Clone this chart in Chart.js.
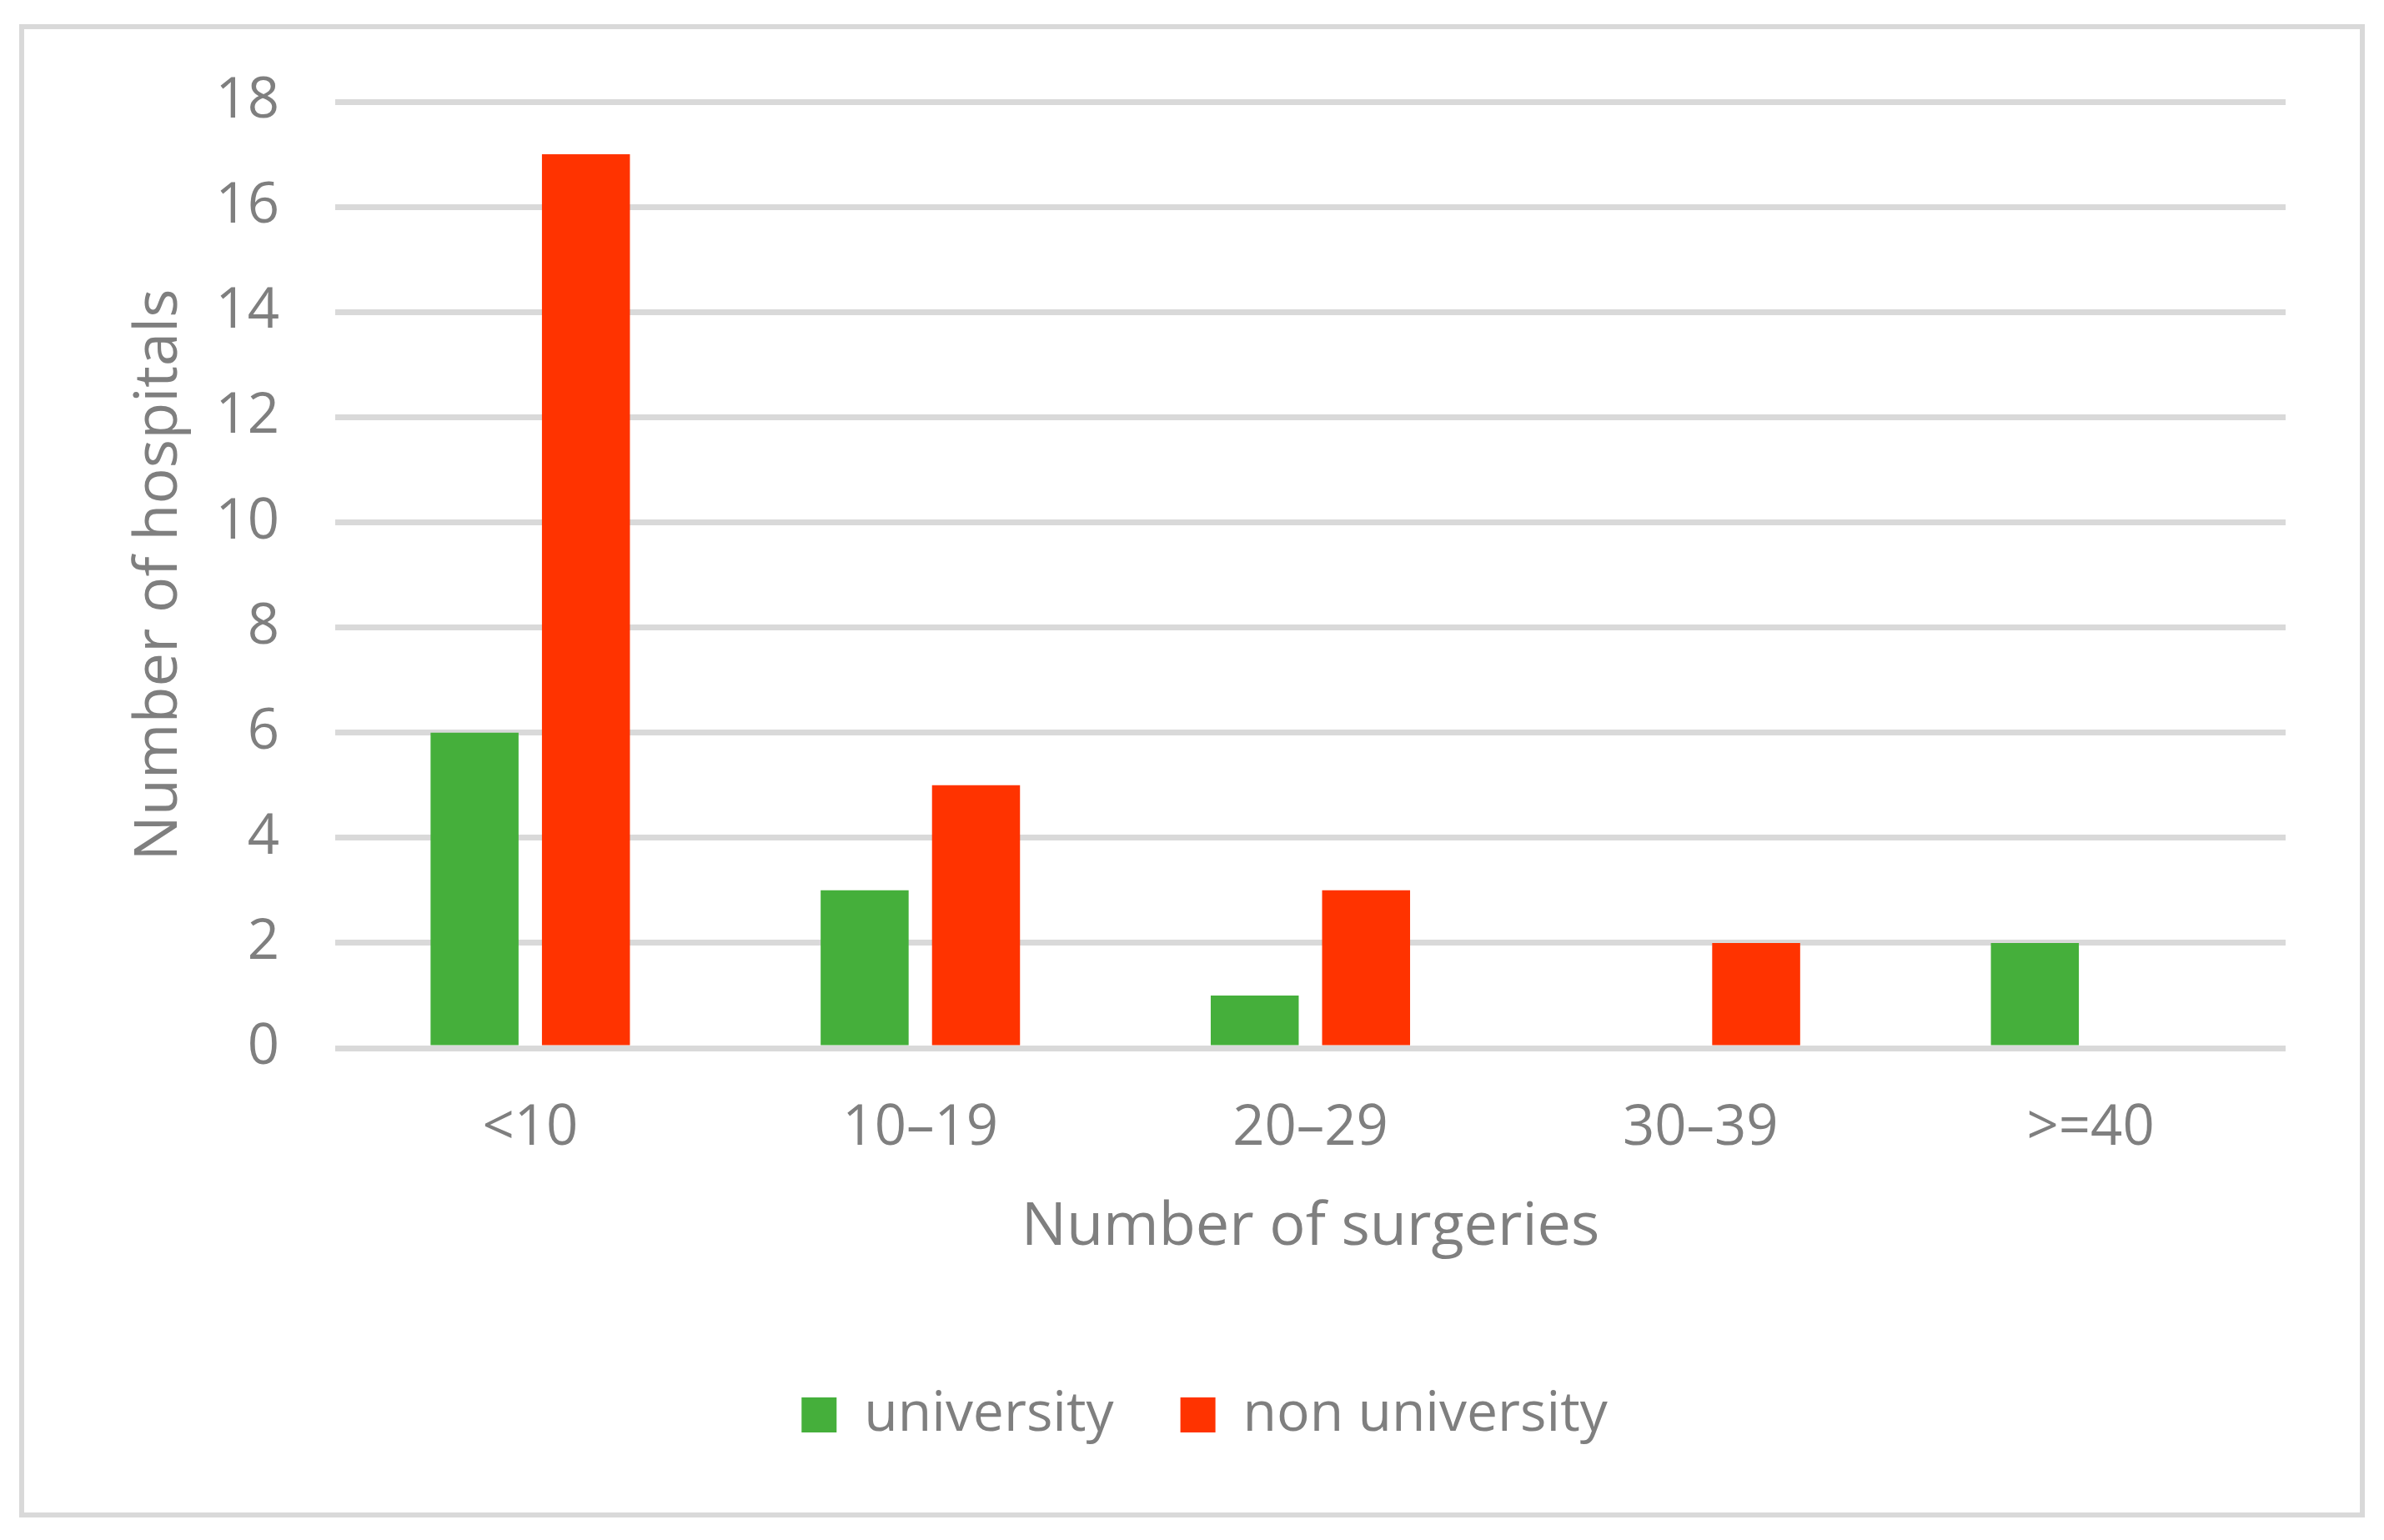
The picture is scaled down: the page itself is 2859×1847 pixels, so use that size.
<!DOCTYPE html>
<html>
<head>
<meta charset="utf-8">
<script src="https://cdn.jsdelivr.net/npm/chart.js@4.4.0/dist/chart.umd.min.js"></script>
<style>
  html, body { margin: 0; padding: 0; background: #ffffff; }
  #wrap { position: relative; width: 2859px; height: 1847px; }
  #frame { position: absolute; left: 23px; top: 29px; width: 2801px; height: 1779px;
           border: 6px solid #d9d9d9; pointer-events: none; }
  canvas { position: absolute; left: 0; top: 0; }
</style>
</head>
<body>
<div id="wrap">
  <canvas id="c" width="2859" height="1847"></canvas>
  <div id="frame"></div>
</div>
<script>
const categories = ["<10", "10\u201319", "20\u201329", "30\u201339", ">=40"];
const universityValues = [6, 3, 1, 0, 2];
const nonUniversityValues = [17, 5, 3, 2, 0];
const seriesNames = ["university", "non university"];
const yTicks = [0, 2, 4, 6, 8, 10, 12, 14, 16, 18];

const textColor = "#7f7f7f";
const gridColor = "#d9d9d9";
const fontFamily = "'Open Sans', sans-serif";

new Chart(document.getElementById("c"), {
  type: "bar",
  data: {
    labels: categories,
    datasets: [
      { label: seriesNames[0], data: universityValues, backgroundColor: "#45af3b",
        borderWidth: 0, categoryPercentage: 0.571, barPercentage: 0.79 },
      { label: seriesNames[1], data: nonUniversityValues, backgroundColor: "#ff3300",
        borderWidth: 0, categoryPercentage: 0.571, barPercentage: 0.79 }
    ]
  },
  options: {
    responsive: false,
    animation: false,
    devicePixelRatio: 1,
    layout: { padding: { top: 122, left: 148, right: 118, bottom: 107 } },
    plugins: {
      tooltip: { enabled: false },
      legend: {
        position: "bottom",
        labels: {
          boxWidth: 42, boxHeight: 42, padding: 80,
          color: textColor,
          font: { family: fontFamily, size: 66 }
        }
      }
    },
    scales: {
      x: {
        grid: { display: false, drawTicks: false },
        border: { display: false },
        ticks: { color: textColor, padding: 57, font: { family: fontFamily, size: 67 } },
        title: { display: true, text: "Number of surgeries", color: textColor,
                 padding: { top: 0, bottom: 68 },
                 font: { family: fontFamily, size: 72 } },
        afterFit: (s) => { s.height = 327; }
      },
      y: {
        min: yTicks[0], max: yTicks[yTicks.length - 1],
        afterBuildTicks: (s) => { s.ticks = yTicks.map(v => ({ value: v })); },
        grid: { color: gridColor, lineWidth: 7, drawTicks: false },
        border: { display: false },
        ticks: { color: textColor, padding: 67, font: { family: fontFamily, size: 67 } },
        title: { display: true, text: "Number of hospitals", color: textColor,
                 padding: { top: 0, bottom: 0 },
                 font: { family: fontFamily, size: 72 } },
        afterFit: (s) => { s.width = 254; }
      }
    }
  }
});
</script>
</body>
</html>
